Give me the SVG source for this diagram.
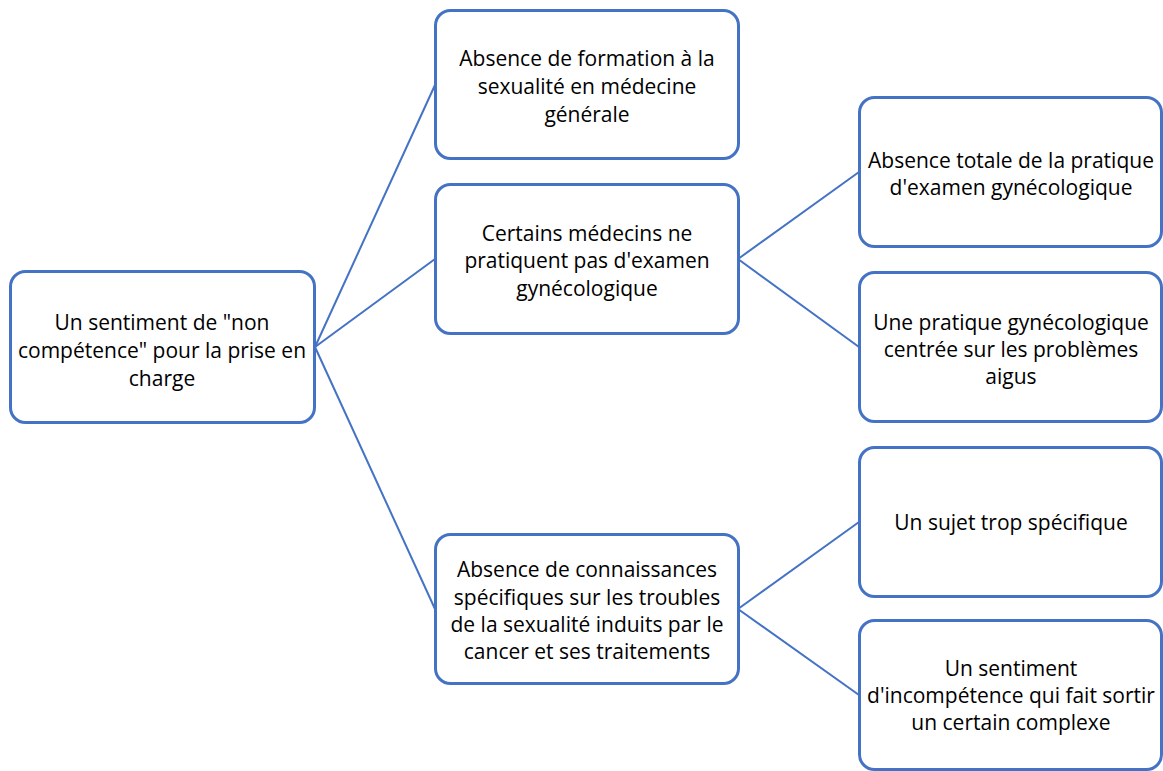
<svg xmlns="http://www.w3.org/2000/svg" width="1163" height="771" viewBox="0 0 1163 771">
<style>
.box{fill:#fff;stroke:#4472C4;stroke-width:3}
.con{stroke:#4472C4;stroke-width:2;fill:none}
text{font-family:"Open Sans","Liberation Sans",sans-serif;font-size:21px;fill:#000;text-anchor:middle;dominant-baseline:central}
</style>
<rect width="1163" height="771" fill="#fff"/>
<g id="connectors">
<line class="con" x1="315" y1="347" x2="435" y2="85"/>
<line class="con" x1="315" y1="347" x2="435" y2="259"/>
<line class="con" x1="315" y1="347" x2="435" y2="609"/>
<line class="con" x1="738" y1="259" x2="859" y2="172"/>
<line class="con" x1="738" y1="259" x2="859" y2="347"/>
<line class="con" x1="738" y1="609" x2="859" y2="522"/>
<line class="con" x1="738" y1="609" x2="859" y2="695"/>
</g>
<g id="root">
<rect class="box" x="10.5" y="271.5" width="304" height="151" rx="15"/>
<text x="162" y="322">Un sentiment de "non</text>
<text x="162" y="350">compétence" pour la prise en</text>
<text x="162" y="378">charge</text>
</g>
<g id="n1">
<rect class="box" x="435.5" y="10.5" width="303" height="148" rx="15"/>
<text x="587" y="58">Absence de formation à la</text>
<text x="587" y="86">sexualité en médecine</text>
<text x="587" y="114">générale</text>
</g>
<g id="n2">
<rect class="box" x="435.5" y="184.5" width="303" height="149" rx="15"/>
<text x="587" y="233">Certains médecins ne</text>
<text x="587" y="260">pratiquent pas d'examen</text>
<text x="587" y="288">gynécologique</text>
</g>
<g id="n3">
<rect class="box" x="435.5" y="534.5" width="303" height="149" rx="15"/>
<text x="587" y="569">Absence de connaissances</text>
<text x="587" y="597">spécifiques sur les troubles</text>
<text x="587" y="624">de la sexualité induits par le</text>
<text x="587" y="651">cancer et ses traitements</text>
</g>
<g id="r1">
<rect class="box" x="859.5" y="97.5" width="302" height="149" rx="15"/>
<text x="1011" y="160">Absence totale de la pratique</text>
<text x="1011" y="187">d'examen gynécologique</text>
</g>
<g id="r2">
<rect class="box" x="859.5" y="272.5" width="302" height="149" rx="15"/>
<text x="1011" y="322">Une pratique gynécologique</text>
<text x="1011" y="349">centrée sur les problèmes</text>
<text x="1011" y="376">aigus</text>
</g>
<g id="r3">
<rect class="box" x="859.5" y="447.5" width="302" height="149" rx="15"/>
<text x="1011" y="522">Un sujet trop spécifique</text>
</g>
<g id="r4">
<rect class="box" x="859.5" y="620.5" width="302" height="149" rx="15"/>
<text x="1011" y="668">Un sentiment</text>
<text x="1011" y="695">d'incompétence qui fait sortir</text>
<text x="1011" y="722">un certain complexe</text>
</g>
</svg>
